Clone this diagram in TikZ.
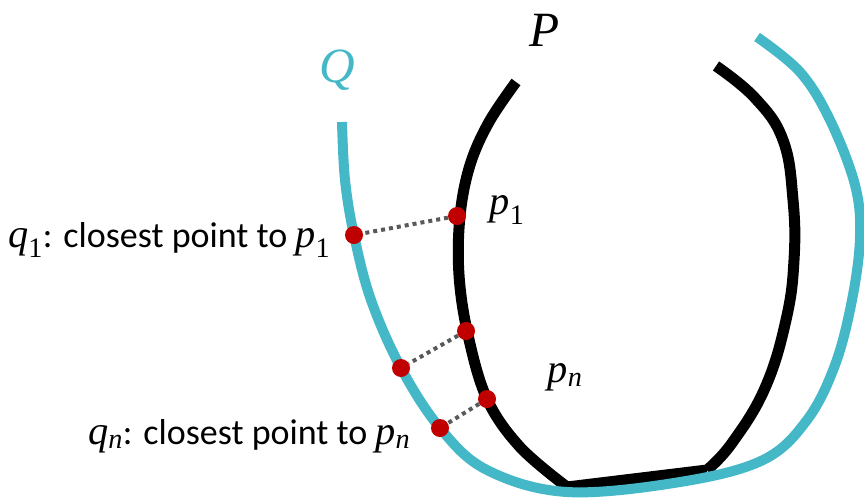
\documentclass[tikz,border=0pt]{standalone}
\usepackage{fontspec}
\setmainfont{Carlito}
\newfontfamily\mvfont{Liberation Serif}[Scale=1.12]
\newcommand\mv[2]{{\mvfont\itshape #1}\textsubscript{\mvfont #2}}
\definecolor{qteal}{HTML}{45B8C8}
\definecolor{dotred}{HTML}{C00000}
\definecolor{dotgray}{HTML}{595959}
\begin{document}
\begin{tikzpicture}[x=1pt,y=-1pt,
  curveP/.style={line width=11pt,black},
  curveQ/.style={line width=10pt,qteal},
  dot/.style={circle,fill=dotred,inner sep=0pt,minimum size=18pt},
  link/.style={dotgray,line width=4pt,dash pattern=on 4pt off 4pt},
  lbl/.style={font=\fontsize{36}{42}\selectfont,inner sep=0pt},
  big/.style={font=\fontsize{44}{50}\selectfont,inner sep=0pt}]
\useasboundingbox (0,0) rectangle (864,499);
% curve P
\draw[curveP] plot[smooth,tension=0.6] coordinates {(516,82) (489,122) (470,165) (460,216) (459,275) (468,335) (487,399) (520,447) (567,487)}
  -- (707,470) plot[smooth,tension=0.7] coordinates {(707,470) (732,443) (765,388) (786,320) (794,260) (793,200) (783,140) (755,98) (716,66)};
% curve Q
\draw[curveQ] plot[smooth,tension=0.6] coordinates {(342,122) (345,180) (354,235) (371,300) (401,368) (440,428) (487,470) (567,492) (680,482) (763,460) (807,420) (835,365) (852,300) (860,237) (855,185) (830,120) (800,72) (757,37)};
% dots
\node[dot] (p1) at (457,216) {};
\node[dot] (q1) at (354,235) {};
\node[dot] (pm) at (466,331) {};
\node[dot] (qm) at (401,368) {};
\node[dot] (pn) at (487,399) {};
\node[dot] (qn) at (440,428) {};
\draw[link] (p1) -- (q1);
\draw[link] (pm) -- (qm);
\draw[link] (pn) -- (qn);
% labels
\node[big] (lP) at (545,30) {{\mvfont\itshape P}};
\node[big,text=qteal] (lQ) at (337,70) {{\mvfont\itshape Q}};
\node[lbl] (lp1) at (507,210) {\mv{p}{1}};
\node[lbl] (lpn) at (565,377) {\mv{p}{\itshape n}};
\node[lbl,anchor=base west] (lq1) at (8,247) {\mv{q}{1}: closest point to \mv{p}{1}};
\node[lbl,anchor=base west] (lqn) at (88,444) {\mv{q}{\itshape n}: closest point to \mv{p}{\itshape n}};
\end{tikzpicture}
\end{document}
